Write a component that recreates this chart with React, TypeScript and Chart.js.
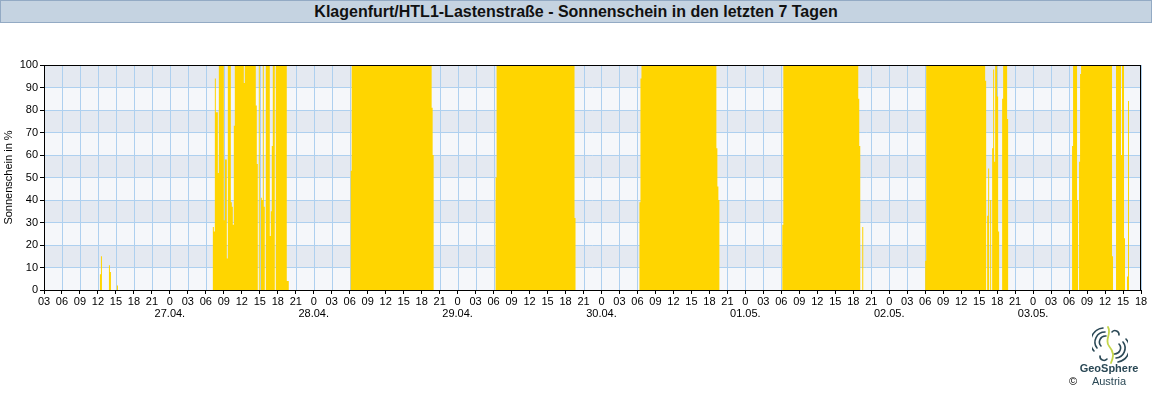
import React, { useEffect, useRef } from 'react';
import { Chart, registerables } from 'chart.js';

Chart.register(...registerables);

const TITLE = 'Klagenfurt/HTL1-Lastenstraße - Sonnenschein in den letzten 7 Tagen';
const Y_TITLE = 'Sonnenschein in %';
const DATES = ['26.04.', '27.04.', '28.04.', '29.04.', '30.04.', '01.05.', '02.05.', '03.05.'];
const START_HOUR = 3; // first x tick: 26.04. 03:00
const SPAN_HOURS = 183; // last x tick: 03.05. 18:00
const TICK_STEP_HOURS = 3;
const DAY_FIRST_HOUR = 6; // each daily array starts at 06:00, one value per 10 minutes
const SLOTS_PER_HOUR = 6;
const Y_TICKS = [0, 10, 20, 30, 40, 50, 60, 70, 80, 90, 100];

// sunshine in % per 10 minutes, from 06:00 onwards
const SUN_26_04 = [
  0, 0, 0, 0, 0, 0, 0, 0, 0, 0, 0, 0, 0, 0, 0, 0, 0, 0,
  0, 0, 0, 0, 0, 0, 0, 0, 0, 0, 0, 0, 0, 0, 0, 0, 0, 0,
  0, 0, 7, 15, 0, 0, 0, 0, 0, 0, 0, 11, 8, 0, 0, 0, 0, 0,
  0, 2, 0, 0, 0, 0, 0, 0, 0, 0, 0, 0, 0, 0, 0, 0, 0, 0,
  0, 0, 0, 0, 0, 0, 0, 0, 0, 0, 0, 0, 0, 0, 0, 0, 0, 0,
];
const SUN_27_04 = [
  0, 0, 0, 0, 0, 0, 0, 28, 26, 94, 79, 79, 52, 100, 100, 100, 100, 100,
  31, 58, 58, 14, 100, 100, 100, 39, 37, 29, 73, 100, 100, 100, 100, 100, 100, 100,
  100, 100, 92, 100, 100, 100, 100, 100, 100, 100, 100, 100, 100, 100, 82, 56, 0, 100,
  0, 41, 40, 100, 37, 0, 100, 100, 100, 100, 24, 35, 64, 100, 100, 0, 100, 100,
  100, 100, 100, 100, 100, 100, 100, 100, 100, 4, 4, 0, 0, 0, 0, 0, 0, 0,
];
const SUN_28_04 = [
  0, 53, 100, 100, 100, 100, 100, 100, 100, 100, 100, 100, 100, 100, 100, 100, 100, 100,
  100, 100, 100, 100, 100, 100, 100, 100, 100, 100, 100, 100, 100, 100, 100, 100, 100, 100,
  100, 100, 100, 100, 100, 100, 100, 100, 100, 100, 100, 100, 100, 100, 100, 100, 100, 100,
  100, 100, 100, 100, 100, 100, 100, 100, 100, 100, 100, 100, 100, 100, 100, 100, 100, 100,
  100, 100, 100, 100, 100, 100, 100, 100, 100, 100, 81, 60, 0, 0, 0, 0, 0, 0,
];
const SUN_29_04 = [
  0, 0, 50, 100, 100, 100, 100, 100, 100, 100, 100, 100, 100, 100, 100, 100, 100, 100,
  100, 100, 100, 100, 100, 100, 100, 100, 100, 100, 100, 100, 100, 100, 100, 100, 100, 100,
  100, 100, 100, 100, 100, 100, 100, 100, 100, 100, 100, 100, 100, 100, 100, 100, 100, 100,
  100, 100, 100, 100, 100, 100, 100, 100, 100, 100, 100, 100, 100, 100, 100, 100, 100, 100,
  100, 100, 100, 100, 100, 100, 100, 100, 100, 32, 0, 0, 0, 0, 0, 0, 0, 0,
];
const SUN_30_04 = [
  0, 0, 39, 94, 100, 100, 100, 100, 100, 100, 100, 100, 100, 100, 100, 100, 100, 100,
  100, 100, 100, 100, 100, 100, 100, 100, 100, 100, 100, 100, 100, 100, 100, 100, 100, 100,
  100, 100, 100, 100, 100, 100, 100, 100, 100, 100, 100, 100, 100, 100, 100, 100, 100, 100,
  100, 100, 100, 100, 100, 100, 100, 100, 100, 100, 100, 100, 100, 100, 100, 100, 100, 100,
  100, 100, 100, 100, 100, 100, 100, 63, 46, 40, 0, 0, 0, 0, 0, 0, 0, 0,
];
const SUN_01_05 = [
  0, 29, 100, 100, 100, 100, 100, 100, 100, 100, 100, 100, 100, 100, 100, 100, 100, 100,
  100, 100, 100, 100, 100, 100, 100, 100, 100, 100, 100, 100, 100, 100, 100, 100, 100, 100,
  100, 100, 100, 100, 100, 100, 100, 100, 100, 100, 100, 100, 100, 100, 100, 100, 100, 100,
  100, 100, 100, 100, 100, 100, 100, 100, 100, 100, 100, 100, 100, 100, 100, 100, 100, 100,
  100, 100, 100, 100, 100, 85, 64, 0, 0, 28, 0, 0, 0, 0, 0, 0, 0, 0,
];
const SUN_02_05 = [
  13, 100, 100, 100, 100, 100, 100, 100, 100, 100, 100, 100, 100, 100, 100, 100, 100, 100,
  100, 100, 100, 100, 100, 100, 100, 100, 100, 100, 100, 100, 100, 100, 100, 100, 100, 100,
  100, 100, 100, 100, 100, 100, 100, 100, 100, 100, 100, 100, 100, 100, 100, 100, 100, 100,
  100, 100, 100, 100, 100, 100, 93, 0, 33, 54, 0, 40, 0, 63, 98, 57, 100, 100,
  86, 26, 0, 0, 0, 85, 100, 100, 100, 100, 76, 0, 0, 0, 0, 0, 0, 0,
];
const SUN_03_05 = [
  0, 0, 0, 64, 100, 100, 100, 100, 40, 0, 57, 96, 100, 100, 100, 100, 100, 100,
  100, 100, 100, 100, 100, 100, 100, 100, 100, 100, 100, 100, 100, 100, 100, 100, 100, 100,
  100, 100, 100, 100, 100, 100, 100, 15, 0, 0, 0, 100, 100, 100, 100, 100, 60, 100,
  100, 23, 0, 0, 6, 84, 0, 0, 0, 0, 0, 0, 0, 0, 0, 0, 0, 0,
];

const DAILY = [SUN_26_04, SUN_27_04, SUN_28_04, SUN_29_04, SUN_30_04, SUN_01_05, SUN_02_05, SUN_03_05];

const SUN_COLOR = '#ffd500';
const GRID_COLOR = '#aed0ef';
const BAND_DARK = '#e4e9f1';
const BAND_LIGHT = '#f5f7fa';
const FONT = 'Liberation Sans, Arial, sans-serif';

function buildPoints() {
  const total = SPAN_HOURS * SLOTS_PER_HOUR;
  const vals: number[] = [];
  for (let s = 0; s <= total; s++) vals.push(0);
  DAILY.forEach((arr, d) => {
    const base = (24 * d + DAY_FIRST_HOUR - START_HOUR) * SLOTS_PER_HOUR;
    arr.forEach((v, i) => {
      if (base + i <= total) vals[base + i] = v;
    });
  });
  return vals.map((v, s) => ({ x: s / SLOTS_PER_HOUR, y: v }));
}

const bandPlugin = {
  id: 'bands',
  beforeDraw(chart: any) {
    const { ctx, chartArea } = chart;
    const y = chart.scales.y;
    const x = chart.scales.x;
    ctx.save();
    for (let k = 0; k < Y_TICKS.length - 1; k++) {
      const top = y.getPixelForValue(Y_TICKS[k + 1]);
      const bot = y.getPixelForValue(Y_TICKS[k]);
      ctx.fillStyle = k % 2 === 1 ? BAND_DARK : BAND_LIGHT;
      ctx.fillRect(chartArea.left, top, chartArea.right - chartArea.left, bot - top);
    }
    // vertical grid lines at the x ticks
    ctx.strokeStyle = GRID_COLOR;
    ctx.lineWidth = 1;
    ctx.beginPath();
    x.ticks.forEach((t: any) => {
      const px = Math.round(x.getPixelForValue(t.value)) + 0.5;
      ctx.moveTo(px, chartArea.top);
      ctx.lineTo(px, chartArea.bottom);
    });
    ctx.stroke();
    ctx.restore();
  },
};

const framePlugin = {
  id: 'frame',
  afterDatasetsDraw(chart: any) {
    const { ctx, chartArea } = chart;
    ctx.save();
    ctx.strokeStyle = '#000';
    ctx.lineWidth = 1;
    const l = Math.round(chartArea.left) + 0.5;
    const r = Math.round(chartArea.right) - 0.5;
    const t = Math.round(chartArea.top) + 0.5;
    const b = Math.round(chartArea.bottom) + 0.5;
    ctx.strokeRect(l, t, r - l, b - t);
    ctx.restore();
  },
};

function SunChart() {
  const ref = useRef<HTMLCanvasElement | null>(null);
  useEffect(() => {
    if (!ref.current) return;
    Chart.defaults.font.family = FONT;
    const xTicks: number[] = [];
    for (let h = 0; h <= SPAN_HOURS; h += TICK_STEP_HOURS) xTicks.push(h);
    const chart = new Chart(ref.current, {
      type: 'line',
      data: {
        datasets: [
          {
            data: buildPoints(),
            stepped: true,
            fill: 'origin',
            backgroundColor: SUN_COLOR,
            borderColor: 'rgba(0,0,0,0)',
            borderWidth: 0,
            pointRadius: 0,
          },
        ],
      },
      options: {
        animation: false,
        responsive: false,
        events: [],
        layout: { padding: { left: 0, right: 11, top: 65, bottom: 80 } },
        plugins: { legend: { display: false }, tooltip: { enabled: false } },
        scales: {
          x: {
            type: 'linear',
            min: 0,
            max: SPAN_HOURS,
            afterBuildTicks: (s: any) => {
              s.ticks = xTicks.map((v) => ({ value: v }));
            },
            afterFit: (s: any) => {
              s.height = 30;
            },
            ticks: {
              autoSkip: false,
              maxRotation: 0,
              minRotation: 0,
              padding: 2,
              color: '#000',
              font: { size: 11, lineHeight: 1.1 },
              callback: (value: any) => {
                const v = Number(value);
                const h = (v + START_HOUR) % 24;
                if (h === 0) return ['0', DATES[(v + START_HOUR) / 24]];
                return String(h).padStart(2, '0');
              },
            },
            grid: { drawOnChartArea: false, color: GRID_COLOR, tickColor: '#000', tickLength: 4 },
            border: { display: false },
          },
          y: {
            min: 0,
            max: 100,
            afterBuildTicks: (s: any) => {
              s.ticks = Y_TICKS.map((v) => ({ value: v }));
            },
            afterFit: (s: any) => {
              s.width = 44;
            },
            ticks: { padding: 2, color: '#000', font: { size: 11 } },
            grid: { color: GRID_COLOR, tickColor: '#000', tickLength: 4 },
            border: { display: false },
            title: {
              display: true,
              text: Y_TITLE,
              color: '#000',
              font: { size: 11 },
              padding: { top: 2, bottom: 0 },
            },
          },
        },
      },
      plugins: [bandPlugin, framePlugin],
    } as any);
    return () => chart.destroy();
  }, []);
  return <canvas ref={ref} width={1152} height={400} style={{ position: 'absolute', left: 0, top: 0 }} />;
}

function Logo() {
  const dark = '#2a4855';
  return (
    <div style={{ position: 'absolute', left: 1059, top: 322, width: 90, height: 70 }}>
      <svg width="36" height="38" viewBox="0 0 36 38" style={{ position: 'absolute', left: 33, top: 4 }}>
        <g fill="none" stroke={dark} strokeWidth="1.6" strokeLinecap="round">
          <path d="M9 20 A6 6 0 0 1 14 10" />
          <path d="M5 22 A10 10 0 0 1 13 6" />
          <path d="M2 25 A14 14 0 0 1 11 2" />
          <path d="M27 18 A6 6 0 0 1 22 28" />
          <path d="M31 16 A10 10 0 0 1 24 32" />
          <path d="M34 13 A14 14 0 0 1 26 36" />
          <path d="M20 6 A4 4 0 0 1 27 9" />
          <path d="M8 30 A4 4 0 0 0 15 33" />
        </g>
        <path d="M16 1 C 20 8, 12 14, 17 20 S 22 30, 19 37" fill="none" stroke="#c5d64a" strokeWidth="1.8" strokeLinecap="round" />
      </svg>
      <div
        style={{
          position: 'absolute',
          left: 0,
          top: 40,
          width: 100,
          textAlign: 'center',
          fontFamily: FONT,
          fontWeight: 'bold',
          fontSize: 11,
          color: dark,
          lineHeight: '12px',
        }}
      >
        GeoSphere
      </div>
      <div
        style={{
          position: 'absolute',
          left: 0,
          top: 53,
          width: 100,
          textAlign: 'center',
          fontFamily: FONT,
          fontSize: 11,
          color: dark,
          lineHeight: '12px',
        }}
      >
        Austria
      </div>
      <div
        style={{
          position: 'absolute',
          left: 10,
          top: 53,
          fontFamily: FONT,
          fontSize: 11,
          color: '#000',
          lineHeight: '12px',
        }}
      >
        ©
      </div>
    </div>
  );
}

export default function App() {
  useEffect(() => {
    document.body.style.margin = '0';
  }, []);
  return (
    <div style={{ position: 'relative', width: 1152, height: 400, background: '#fff', overflow: 'hidden' }}>
      <SunChart />
      <div
        style={{
          position: 'absolute',
          left: 0,
          top: 0,
          width: 1152,
          height: 23,
          boxSizing: 'border-box',
          border: '1px solid #93aac4',
          background: '#c5d3e1',
          textAlign: 'center',
          fontFamily: FONT,
          fontWeight: 'bold',
          fontSize: 16,
          lineHeight: '21px',
          color: '#111',
        }}
      >
        {TITLE}
      </div>
      <Logo />
    </div>
  );
}
